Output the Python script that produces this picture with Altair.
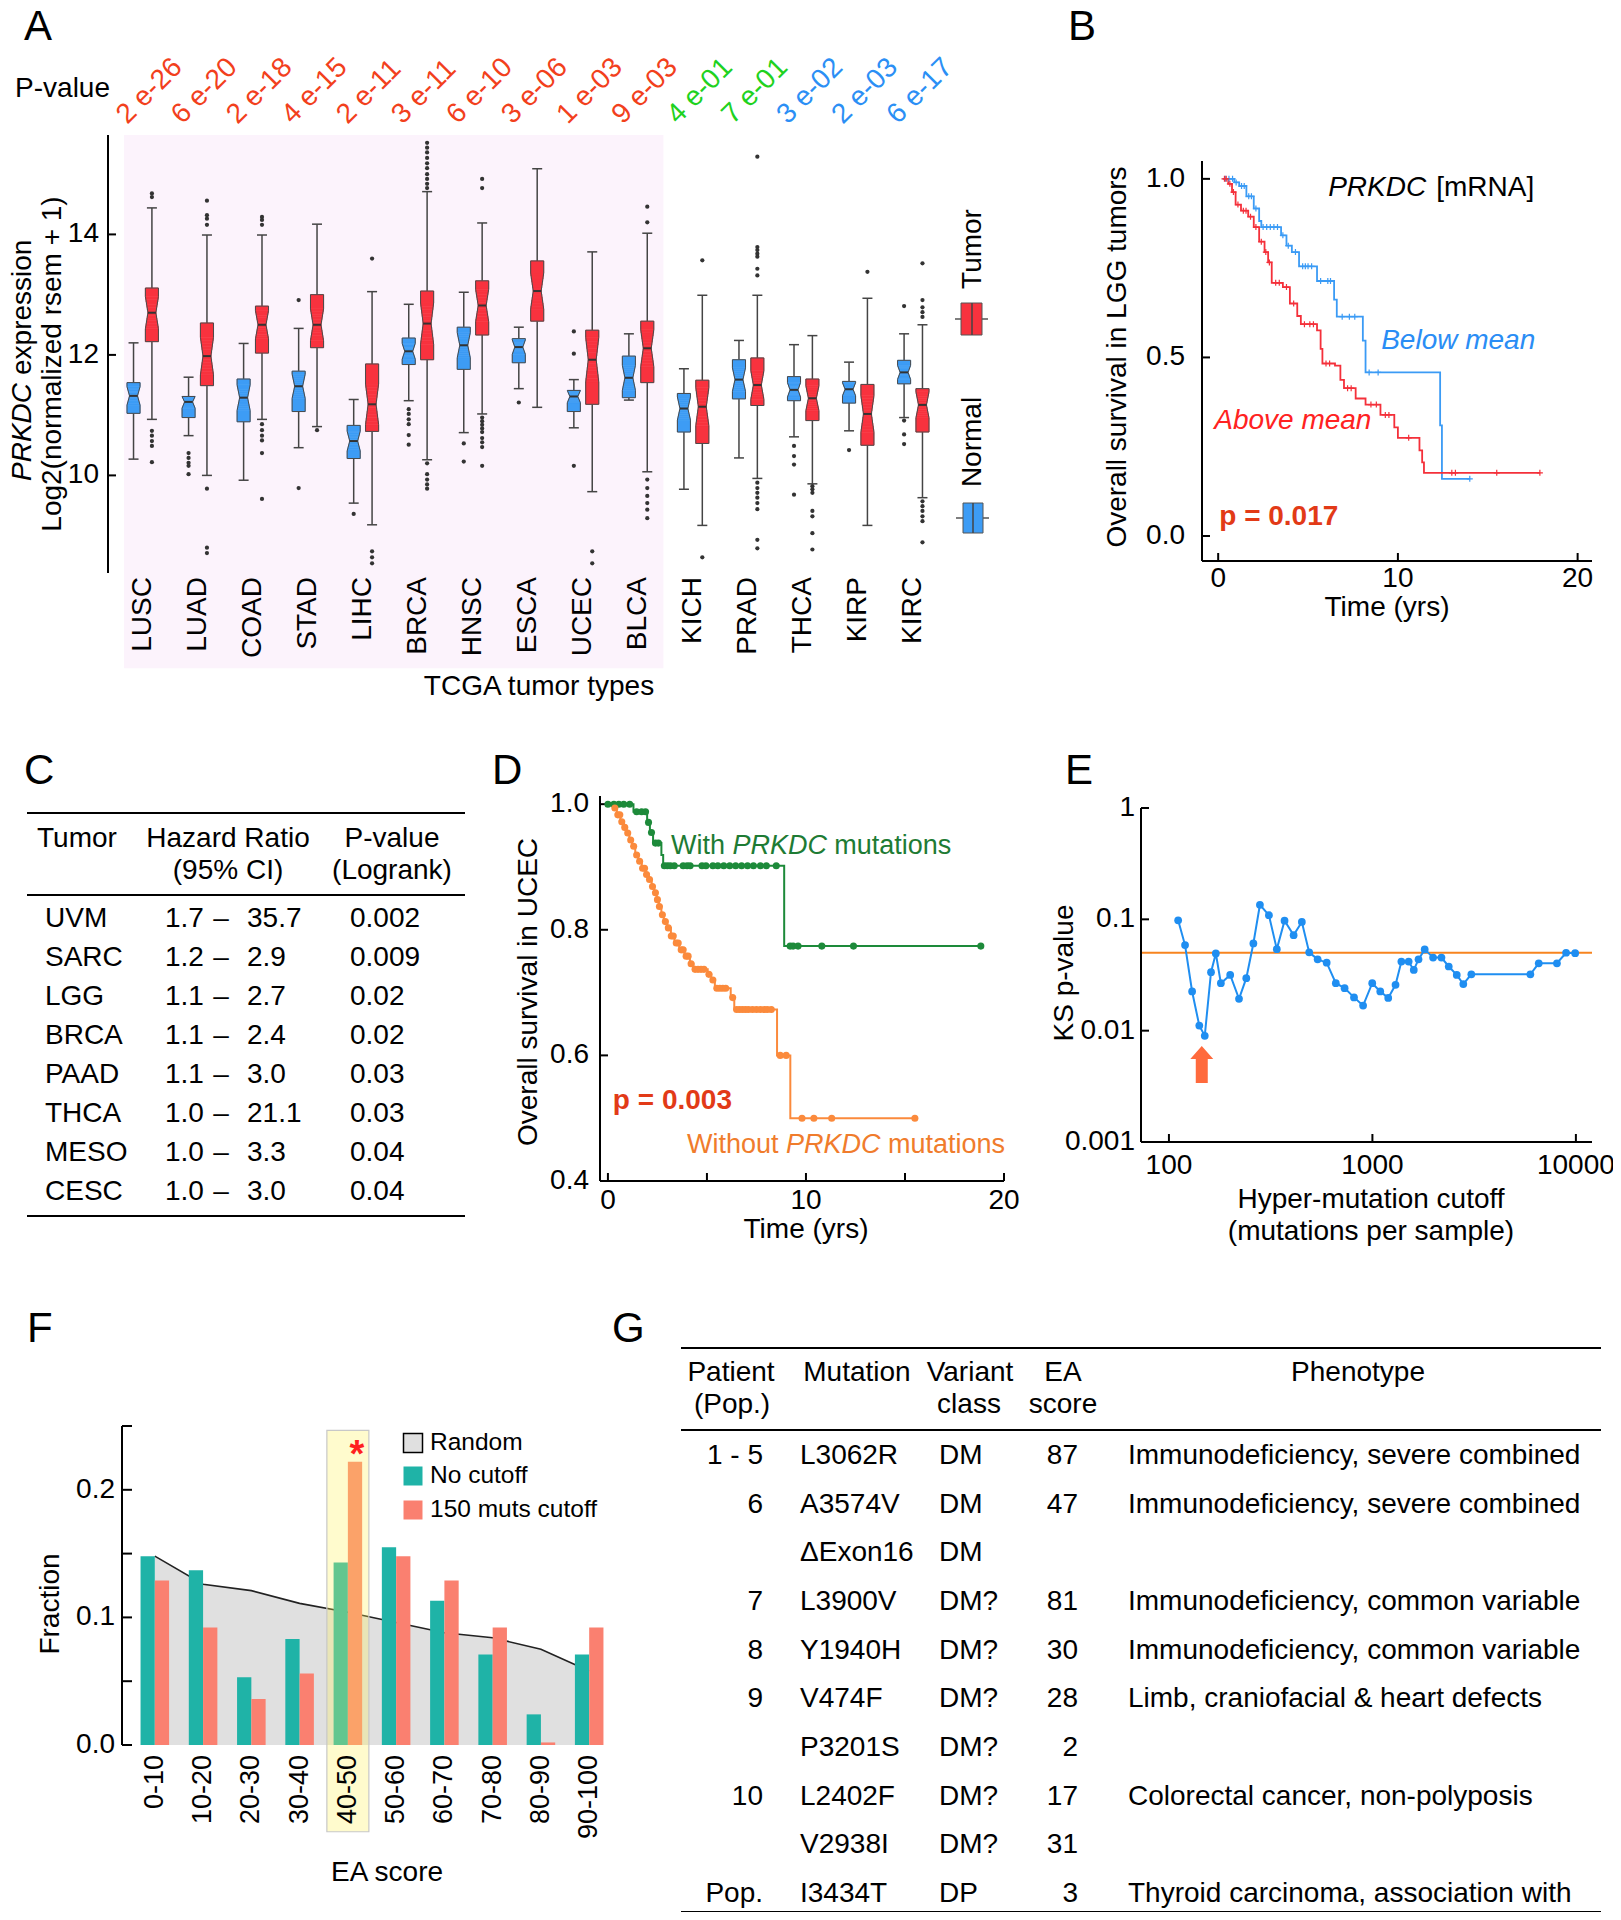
import altair as alt
import pandas as pd

FONT = "Liberation Sans"
FS = 28
OFF = 8  # page margin: reference pixel -> view pixel


def P(v):
    return v - OFF


# ======================= DATA =======================
# ---- Panel A ----
tumors = ["LUSC", "LUAD", "COAD", "STAD", "LIHC", "BRCA", "HNSC", "ESCA", "UCEC", "BLCA",
          "KICH", "PRAD", "THCA", "KIRP", "KIRC"]
pvals = ["2 e-26", "6 e-20", "2 e-18", "4 e-15", "2 e-11", "3 e-11", "6 e-10", "3 e-06", "1 e-03",
         "9 e-03", "4 e-01", "7 e-01", "3 e-02", "2 e-03", "6 e-17"]
pdir = ["up"] * 10 + ["ns"] * 2 + ["down"] * 3
A_yticks = [10, 12, 14]

normal_lw = [10.27, 10.66, 9.92, 10.46, 9.54, 11.24, 10.71, 11.44, 10.79, 11.25, 9.77, 10.29, 10.64, 10.74, 10.96]
normal_q1 = [11.03, 10.96, 10.89, 11.06, 10.28, 11.84, 11.76, 11.87, 11.06, 11.29, 10.72, 11.27, 11.24, 11.20, 11.52]
normal_med = [11.32, 11.22, 11.29, 11.48, 10.57, 12.06, 12.16, 12.13, 11.31, 11.62, 11.11, 11.59, 11.42, 11.43, 11.71]
normal_q3 = [11.54, 11.31, 11.60, 11.73, 10.83, 12.28, 12.46, 12.27, 11.41, 11.98, 11.36, 11.92, 11.64, 11.56, 11.91]
normal_uw = [12.20, 11.63, 12.19, 12.44, 11.26, 12.84, 13.04, 12.46, 11.59, 12.35, 11.77, 12.24, 12.17, 11.88, 12.35]
normal_out = [[], [10.37, 10.29, 10.21, 10.16, 10.02], [], [12.91, 9.79], [9.36],
              [11.10, 11.02, 10.93, 10.85, 10.67, 10.51], [10.53, 10.23], [11.21], [12.39, 12.02, 10.16], [],
              [], [], [10.49, 10.32, 10.18, 9.68], [10.42], [12.81, 10.91, 10.68, 10.52]]
tumor_lw = [10.93, 10.00, 10.93, 10.81, 9.18, 10.26, 11.02, 11.13, 9.73, 10.06, 9.17, 9.95, 9.86, 9.17, 9.63]
tumor_q1 = [12.22, 11.49, 12.03, 12.12, 10.73, 11.92, 12.33, 12.56, 11.18, 11.54, 10.53, 11.16, 10.91, 10.50, 10.72]
tumor_med = [12.70, 11.98, 12.50, 12.50, 11.18, 12.52, 12.82, 13.06, 11.92, 12.11, 11.14, 11.50, 11.28, 11.02, 11.17]
tumor_q3 = [13.11, 12.53, 12.81, 13.00, 11.85, 13.06, 13.23, 13.56, 12.41, 12.56, 11.58, 11.95, 11.60, 11.51, 11.44]
tumor_uw = [14.44, 13.99, 13.99, 14.17, 13.05, 14.71, 14.19, 15.09, 13.71, 14.02, 12.99, 12.99, 12.32, 12.94, 12.50]
tumor_out = [[14.62, 14.68, 10.74, 10.66, 10.57, 10.49, 10.22],
             [14.56, 14.32, 14.26, 14.16, 9.78, 8.80, 8.71],
             [14.29, 14.24, 14.16, 10.85, 10.75, 10.66, 10.58, 10.37, 9.61],
             [10.75],
             [13.60, 8.74, 8.64, 8.54],
             [15.52, 15.44, 15.36, 15.27, 15.18, 15.10, 15.00, 14.92, 14.84, 14.77, 10.20, 10.02, 9.93, 9.85, 9.78],
             [14.92, 14.77, 10.96, 10.90, 10.84, 10.78, 10.72, 10.62, 10.55, 10.47, 10.16],
             [],
             [8.74, 8.54],
             [14.46, 14.20, 9.93, 9.79, 9.66, 9.54, 9.43, 9.29],
             [13.57, 8.64],
             [15.29, 13.79, 13.74, 13.68, 13.63, 13.43, 13.32, 9.88, 9.79, 9.71, 9.63, 9.54, 9.44, 8.93, 8.79],
             [9.82, 9.77, 9.71, 9.41, 9.32, 9.04, 8.77],
             [13.38],
             [13.52, 12.91, 12.79, 12.71, 12.63, 9.57, 9.49, 9.41, 9.32, 9.24, 8.89]]

# ---- Panel B ----
below_t = [0.3, 0.9, 1.17, 1.57, 1.98, 2.28, 2.4, 3.5, 3.8, 4.1, 4.5, 5.5, 6.45, 6.6, 8.05, 8.2, 12.35, 12.45]
below_s = [1.0, 0.99, 0.98, 0.951, 0.917, 0.882, 0.865, 0.842, 0.813, 0.795, 0.755, 0.714, 0.662, 0.614,
           0.547, 0.458, 0.31, 0.16]
below_end = 14.0
below_cens = [0.4, 0.6, 0.8, 1.0, 1.3, 1.45, 1.7, 1.85, 2.1, 2.5, 2.7, 2.9, 3.1, 3.3, 3.6, 3.9, 4.3, 4.7,
              4.85, 5.0, 5.2, 5.7, 6.1, 6.25, 6.9, 7.3, 7.6, 8.4, 8.9, 14.0]
above_t = [0.3, 0.56, 0.77, 0.97, 1.27, 1.67, 1.98, 2.28, 2.58, 2.78, 2.98, 3.6, 3.99, 4.4, 4.6, 5.5, 5.7,
           5.8, 6.5, 6.8, 7.0, 7.65, 8.2, 9.03, 9.8, 10.0, 11.2, 11.35, 11.45]
above_s = [1.0, 0.986, 0.963, 0.928, 0.911, 0.894, 0.865, 0.824, 0.795, 0.766, 0.709, 0.697, 0.651, 0.616,
           0.593, 0.576, 0.524, 0.483, 0.477, 0.437, 0.414, 0.385, 0.368, 0.339, 0.304, 0.275, 0.24, 0.206,
           0.177]
above_end = 17.9
above_cens = [0.35, 0.45, 0.65, 0.85, 1.1, 1.4, 1.55, 1.8, 2.1, 2.4, 2.65, 2.85, 3.2, 3.4, 3.8, 4.2, 4.8,
              5.1, 5.3, 6.0, 6.2, 7.2, 7.4, 8.5, 8.8, 9.3, 9.5, 10.6, 13.0, 13.2, 15.5, 17.9]
B_xticks = [0, 10, 20]
B_yticks = [0.0, 0.5, 1.0]
B_ylabels = ["0.0", "0.5", "1.0"]

# ---- Panel C ----
c_tumor = ["UVM", "SARC", "LGG", "BRCA", "PAAD", "THCA", "MESO", "CESC"]
c_lo = ["1.7", "1.2", "1.1", "1.1", "1.1", "1.0", "1.0", "1.0"]
c_hi = ["35.7", "2.9", "2.7", "2.4", "3.0", "21.1", "3.3", "3.0"]
c_p = ["0.002", "0.009", "0.02", "0.02", "0.03", "0.03", "0.04", "0.04"]

# ---- Panel D ----
with_t = [0, 1.29, 1.98, 2.12, 2.28, 2.7, 2.79, 8.9]
with_s = [1.0, 0.988, 0.971, 0.955, 0.938, 0.919, 0.902, 0.774]
with_end = 18.83
with_cens = [0, 0.3, 0.55, 0.8, 1.1, 1.45, 1.7, 1.9, 2.05, 2.2, 2.4, 2.55, 2.85, 3.0, 3.15, 3.35, 3.8, 4.0,
             4.15, 4.75, 4.95, 5.3, 5.55, 5.85, 6.15, 6.45, 6.75, 7.05, 7.35, 7.7, 8.0, 8.5, 9.2, 9.35, 9.6,
             10.8, 12.4, 18.83]
without_t = [0, 0.27, 0.45, 0.63, 0.81, 0.94, 1.08, 1.22, 1.38, 1.53, 1.71, 1.89, 2.07, 2.21, 2.34, 2.46,
             2.57, 2.7, 2.82, 3.0, 3.18, 3.36, 3.6, 3.87, 4.14, 4.32, 5.04, 5.22, 5.4, 6.2, 6.38, 8.54, 9.21]
without_s = [1.0, 0.994, 0.983, 0.972, 0.963, 0.954, 0.943, 0.933, 0.919, 0.909, 0.898, 0.888, 0.880, 0.869,
             0.859, 0.848, 0.837, 0.824, 0.813, 0.803, 0.790, 0.779, 0.768, 0.758, 0.746, 0.737, 0.729,
             0.720, 0.707, 0.692, 0.673, 0.600, 0.500]
without_end = 15.5
without_cens = [0.35, 0.5, 0.6, 0.7, 0.85, 1.0, 1.15, 1.3, 1.45, 1.6, 1.75, 1.85, 1.95, 2.1, 2.25, 2.4, 2.5,
                2.6, 2.75, 2.9, 3.05, 3.2, 3.3, 3.45, 3.55, 3.7, 3.8, 3.95, 4.05, 4.2, 4.4, 4.55, 4.7, 4.85,
                5.1, 5.3, 5.5, 5.65, 5.8, 5.95, 6.3, 6.5, 6.65, 6.8, 6.95, 7.1, 7.3, 7.5, 7.7, 7.9, 8.05,
                8.25, 8.7, 9.0, 9.8, 10.4, 11.3, 15.5]
D_xticks = [0, 5, 10, 15, 20]
D_xlabels = ["0", "", "10", "", "20"]
D_yticks = [0.4, 0.6, 0.8, 1.0]
D_ylabels = ["0.4", "0.6", "0.8", "1.0"]

# ---- Panel E ----
ks_cutoff = [111, 120, 130, 141, 150, 161, 170, 180, 200, 221, 240, 260, 280, 310, 339, 370, 410, 450, 489,
             538, 596, 661, 730, 812, 900, 998, 1093, 1196, 1299, 1388, 1507, 1597, 1685, 1807, 1987, 2184,
             2372, 2597, 2797, 3063, 5974, 6568, 8070, 8949, 9918]
ks_p = [0.098, 0.0587, 0.0225, 0.0111, 0.0090, 0.0335, 0.0494, 0.0267, 0.0317, 0.0193, 0.0296, 0.0607,
        0.135, 0.109, 0.054, 0.0973, 0.0721, 0.0947, 0.0505, 0.0437, 0.0408, 0.0267, 0.0241, 0.0199, 0.0168,
        0.0267, 0.0225, 0.0197, 0.0258, 0.0417, 0.0417, 0.0351, 0.0437, 0.0537, 0.0453, 0.0453, 0.0377,
        0.0317, 0.0262, 0.0321, 0.0321, 0.0403, 0.0403, 0.0501, 0.0497]
ks_threshold = 0.05
arrow_cutoff = 145
arrow_p = 0.00496
E_xticks = [100, 1000, 10000]
E_xlabels = ["100", "1000", "10000"]
E_yticks = [0.001, 0.01, 0.1, 1]
E_ylabels = ["0.001", "0.01", "0.1", "1"]

# ---- Panel F ----
ea_bins = ["0-10", "10-20", "20-30", "30-40", "40-50", "50-60", "60-70", "70-80", "80-90", "90-100"]
random_frac = [0.148, 0.126, 0.121, 0.111, 0.104, 0.096, 0.088, 0.084, 0.075, 0.058]
nocut_frac = [0.148, 0.137, 0.053, 0.083, 0.143, 0.155, 0.113, 0.071, 0.024, 0.071]
cut150_frac = [0.129, 0.092, 0.036, 0.056, 0.222, 0.148, 0.129, 0.092, 0.002, 0.092]
f_groups = ["No cutoff", "150 muts cutoff"]
highlight_bin = "40-50"
F_yticks = [0, 0.05, 0.1, 0.15, 0.2, 0.25]
F_ylabels = ["0.0", "", "0.1", "", "0.2", ""]

# ---- Panel G ----
g_patient = ["1 - 5", "6", "", "7", "8", "9", "", "10", "", "Pop."]
g_mut = ["L3062R", "A3574V", "\u0394Exon16", "L3900V", "Y1940H", "V474F", "P3201S", "L2402F", "V2938I", "I3434T"]
g_class = ["DM", "DM", "DM", "DM?", "DM?", "DM?", "DM?", "DM?", "DM?", "DP"]
g_ea = ["87", "47", "", "81", "30", "28", "2", "17", "31", "3"]
g_pheno = ["Immunodeficiency, severe combined", "Immunodeficiency, severe combined", "",
           "Immunodeficiency, common variable", "Immunodeficiency, common variable",
           "Limb, craniofacial & heart defects", "", "Colorectal cancer, non-polyposis", "",
           "Thyroid carcinoma, association with"]

# ======================= HELPERS =======================
one = pd.DataFrame({"k": [0]})


def txt(text, x, y, size=FS, align="left", baseline="middle", angle=0, color="black",
        weight="normal", style="normal"):
    return alt.Chart(one).mark_text(text=text, align=align, baseline=baseline, angle=angle, fontSize=size,
                                    color=color, fontWeight=weight, fontStyle=style, font=FONT).encode(
        x=alt.value(P(x)), y=alt.value(P(y)))


def hrule(x1, x2, y, w=2.0, color="black"):
    return alt.Chart(one).mark_rule(color=color, strokeWidth=w).encode(
        x=alt.value(P(x1)), x2=alt.value(P(x2)), y=alt.value(P(y)))


def vrule(x, y1, y2, w=2.0, color="black"):
    return alt.Chart(one).mark_rule(color=color, strokeWidth=w).encode(
        x=alt.value(P(x)), y=alt.value(P(y1)), y2=alt.value(P(y2)))


def yticks(vals, labs, ys, xaxis, tick, label_x, fs=FS):
    d = pd.DataFrame({"v": vals, "lab": labs})
    t = alt.Chart(d).mark_rule(color="black", strokeWidth=2).encode(
        x=alt.value(P(xaxis)), x2=alt.value(P(xaxis + tick)), y=alt.Y("v:Q", scale=ys, axis=None))
    lab = alt.Chart(d).mark_text(align="right", baseline="middle", fontSize=fs, font=FONT).encode(
        x=alt.value(P(label_x)), y=alt.Y("v:Q", scale=ys, axis=None), text="lab:N")
    return [t, lab]


def xticks(vals, labs, xs, yaxis, tick, label_y, fs=FS):
    d = pd.DataFrame({"v": vals, "lab": labs})
    t = alt.Chart(d).mark_rule(color="black", strokeWidth=2).encode(
        x=alt.X("v:Q", scale=xs, axis=None), y=alt.value(P(yaxis)), y2=alt.value(P(yaxis - tick)))
    lab = alt.Chart(d).mark_text(align="center", baseline="middle", fontSize=fs, font=FONT).encode(
        x=alt.X("v:Q", scale=xs, axis=None), y=alt.value(P(label_y)), text="lab:N")
    return [t, lab]


def step_at(ts, ss, t):
    v = ss[0]
    for ti, si in zip(ts, ss):
        if ti <= t + 1e-9:
            v = si
    return v


def km_rows(name, ts, ss, tend):
    rows = [dict(grp=name, t=t, s=s) for t, s in zip(ts, ss)]
    rows.append(dict(grp=name, t=tend, s=ss[-1]))
    return rows


def cens_rows(name, ts, ss, cens):
    return [dict(grp=name, t=c, s=step_at(ts, ss, c)) for c in cens]


def ann(text, t, s, xs, ys, color="black", style="normal", weight="normal", align="left", size=FS):
    d = pd.DataFrame({"t": [t], "s": [s], "lab": [text]})
    return alt.Chart(d).mark_text(align=align, baseline="middle", fontSize=size, font=FONT, color=color,
                                  fontStyle=style, fontWeight=weight).encode(
        x=alt.X("t:Q", scale=xs, axis=None), y=alt.Y("s:Q", scale=ys, axis=None), text="lab:N")


CROSS = "M-1,0L1,0M0,-1L0,1"

# ======================= PANEL A =======================
A_BLUE, A_RED = "#3d9cf5", "#f8323e"
P_RED, P_GREEN, P_BLUE = "#f2401c", "#1fd21f", "#2b8ff5"
xsA = alt.Scale(domain=[-0.54, 14.54], range=[P(108), P(948)], nice=False, zero=False)
ysA = alt.Scale(domain=[8.38, 15.65], range=[P(573), P(135)], nice=False, zero=False)
A_STEP = 55.7                 # px per category
DOD = 0.167                   # dodge between normal / tumor boxes
BOX_PX = 13.2                 # box width (px)
NOTCH_PX = 8.0                # width at the notch (px)
HW = BOX_PX / 2 / A_STEP
NW = NOTCH_PX / 2 / A_STEP
NSL = 6                       # slices per notch half

rows, slrows, olrows = [], [], []
for i in range(len(tumors)):
    for grp, lw, q1, med, q3, uw in [
        ("Normal", normal_lw[i], normal_q1[i], normal_med[i], normal_q3[i], normal_uw[i]),
        ("Tumor", tumor_lw[i], tumor_q1[i], tumor_med[i], tumor_q3[i], tumor_uw[i])]:
        xc = i + (-DOD if grp == "Normal" else DOD)
        bid = f"{i}-{grp}"
        rows.append(dict(idx=i, grp=grp, xpos=xc, lw=lw, q1=q1, med=med, q3=q3, uw=uw))
        n = 0.3 * (q3 - q1)
        a, b = max(q1, med - n), min(q3, med + n)
        slrows.append(dict(grp=grp, xpos=xc, ya=q1, yb=a, w=BOX_PX))
        slrows.append(dict(grp=grp, xpos=xc, ya=b, yb=q3, w=BOX_PX))
        for j in range(NSL):
            f = (j + 0.5) / NSL
            slrows.append(dict(grp=grp, xpos=xc, ya=a + (med - a) * j / NSL, yb=a + (med - a) * (j + 1) / NSL,
                               w=BOX_PX + (NOTCH_PX - BOX_PX) * f))
            slrows.append(dict(grp=grp, xpos=xc, ya=med + (b - med) * j / NSL, yb=med + (b - med) * (j + 1) / NSL,
                               w=BOX_PX + (NOTCH_PX - BOX_PX) * (1 - f)))
        outline = [(xc - HW, q1), (xc - HW, a), (xc - NW, med), (xc - HW, b), (xc - HW, q3),
                   (xc + HW, q3), (xc + HW, b), (xc + NW, med), (xc + HW, a), (xc + HW, q1), (xc - HW, q1)]
        for k, (ox, oy) in enumerate(outline):
            olrows.append(dict(bid=bid, k=k, ox=ox, oy=oy))
boxdf = pd.DataFrame(rows)
slicedf = pd.DataFrame(slrows)
outlinedf = pd.DataFrame(olrows)
orows = []
for i in range(len(tumors)):
    orows += [dict(grp="Normal", xpos=i - DOD, val=v) for v in normal_out[i]]
    orows += [dict(grp="Tumor", xpos=i + DOD, val=v) for v in tumor_out[i]]
outdf = pd.DataFrame(orows)

xA = alt.X("xpos:Q", scale=xsA, axis=None)


def yA(f):
    return alt.Y(f, scale=ysA, axis=None)


boxscale = alt.Scale(domain=["Normal", "Tumor"], range=[A_BLUE, A_RED])
pink_df = pd.DataFrame({"x1": [-0.34], "x2": [9.46], "y1": [15.65], "y2": [6.8]})
pink = alt.Chart(pink_df).mark_rect(color="#fcf3fc").encode(
    x=alt.X("x1:Q", scale=xsA, axis=None), x2="x2:Q", y=yA("y1:Q"), y2="y2:Q")
bA = alt.Chart(boxdf)
w_lo = bA.mark_rule(color="#444", strokeWidth=1.5).encode(x=xA, y=yA("lw:Q"), y2="q1:Q")
w_hi = bA.mark_rule(color="#444", strokeWidth=1.5).encode(x=xA, y=yA("q3:Q"), y2="uw:Q")
cap_lo = bA.mark_tick(orient="horizontal", size=10, thickness=1.5, color="#444", opacity=1).encode(x=xA, y=yA("lw:Q"))
cap_hi = bA.mark_tick(orient="horizontal", size=10, thickness=1.5, color="#444", opacity=1).encode(x=xA, y=yA("uw:Q"))
slices = alt.Chart(slicedf).mark_bar(opacity=1, strokeWidth=0.6).encode(
    x=xA, y=yA("ya:Q"), y2="yb:Q", size=alt.Size("w:Q", scale=None, legend=None),
    color=alt.Color("grp:N", scale=boxscale, legend=None),
    stroke=alt.Stroke("grp:N", scale=boxscale, legend=None))
outline_l = alt.Chart(outlinedf).mark_line(color="#4a4a4a", strokeWidth=1).encode(
    x=alt.X("ox:Q", scale=xsA, axis=None), y=yA("oy:Q"), detail="bid:N", order="k:Q")
meds = bA.mark_tick(orient="horizontal", size=8, thickness=2, color="#333", opacity=1).encode(x=xA, y=yA("med:Q"))
outs = alt.Chart(outdf).mark_circle(size=18, color="#333", opacity=1).encode(x=xA, y=yA("val:Q"))

pdf = pd.DataFrame({"idx": list(range(len(tumors))), "lab": pvals, "dir": pdir, "name": tumors})
plabs = alt.Chart(pdf).transform_calculate(xl="datum.idx - 0.28").mark_text(
    angle=315, align="left", baseline="alphabetic", fontSize=FS, font=FONT).encode(
    x=alt.X("xl:Q", scale=xsA, axis=None), y=alt.value(P(125)), text="lab:N",
    color=alt.Color("dir:N", scale=alt.Scale(domain=["up", "ns", "down"], range=[P_RED, P_GREEN, P_BLUE]),
                    legend=None))
catlabs = alt.Chart(pdf).mark_text(angle=270, align="right", baseline="middle", fontSize=FS, font=FONT).encode(
    x=alt.X("idx:Q", scale=xsA, axis=None), y=alt.value(P(577)), text="name:N")


def leg_icon(x1, x2, y1, y2, xm, xw1, xw2, yw, fill):
    return [hrule(xw1, xw2, yw, w=1.5, color="#555"),
            alt.Chart(one).mark_rect(fill=fill, stroke="#555", strokeWidth=1).encode(
                x=alt.value(P(x1)), x2=alt.value(P(x2)), y=alt.value(P(y1)), y2=alt.value(P(y2))),
            vrule(xm, y1, y2, w=1.5, color="#444")]


A_layers = [pink, w_lo, w_hi, cap_lo, cap_hi, slices, outline_l, meds, outs, plabs, catlabs,
            vrule(108, 135, 573)] + yticks(A_yticks, [str(v) for v in A_yticks], ysA, 108, 8, 99) + [
    txt("A", 24, 40, size=42, baseline="alphabetic"),
    txt("P-value", 110, 89, align="right"),
    txt("PRKDC", 23, 383, align="right", angle=270, style="italic"),
    txt("expression", 23, 375, align="left", angle=270),
    txt("Log2(normalized rsem + 1)", 53, 364, align="center", angle=270),
    txt("TCGA tumor types", 539, 687, align="center"),
    txt("Tumor", 973, 249, align="center", angle=270),
    txt("Normal", 973, 442, align="center", angle=270)]
A_layers += leg_icon(961, 982, 303, 335, 972, 955, 988, 319, A_RED)
A_layers += leg_icon(963, 983, 503, 533, 973, 956, 989, 518, A_BLUE)
panelA = alt.layer(*A_layers).resolve_scale(color="independent")

# ======================= PANEL B =======================
B_BLUE, B_RED = "#3b9bf5", "#f4303a"
xsB = alt.Scale(domain=[-0.9, 20.8], range=[P(1202), P(1592)], nice=False, zero=False)
ysB = alt.Scale(domain=[-0.07, 1.05], range=[P(561), P(161)], nice=False, zero=False)
bdf = pd.DataFrame(km_rows("Below", below_t, below_s, below_end) + km_rows("Above", above_t, above_s, above_end))
bcd = pd.DataFrame(cens_rows("Below", below_t, below_s, below_cens) + cens_rows("Above", above_t, above_s, above_cens))
colB = alt.Color("grp:N", scale=alt.Scale(domain=["Below", "Above"], range=[B_BLUE, B_RED]), legend=None)
curvesB = alt.Chart(bdf).mark_line(interpolate="step-after", strokeWidth=1.8).encode(
    x=alt.X("t:Q", scale=xsB, axis=None), y=alt.Y("s:Q", scale=ysB, axis=None), color=colB)
censB = alt.Chart(bcd).mark_point(shape=CROSS, size=36, strokeWidth=1.2, filled=False, opacity=1).encode(
    x=alt.X("t:Q", scale=xsB, axis=None), y=alt.Y("s:Q", scale=ysB, axis=None), color=colB)
panelB = alt.layer(
    vrule(1202, 161, 561), hrule(1202, 1592, 561),
    *yticks(B_yticks, B_ylabels, ysB, 1202, 8, 1185),
    *xticks(B_xticks, [str(v) for v in B_xticks], xsB, 561, 8, 579),
    curvesB, censB,
    ann("PRKDC", 6.12, 0.975, xsB, ysB, style="italic"),
    ann("[mRNA]", 12.13, 0.975, xsB, ysB),
    ann("Below mean", 9.07, 0.547, xsB, ysB, color="#2a8df5", style="italic"),
    ann("Above mean", -0.22, 0.321, xsB, ysB, color="#ff2222", style="italic"),
    ann("p = 0.017", 0.06, 0.052, xsB, ysB, color="#e23a17", weight="bold"),
    txt("B", 1068, 40, size=42, baseline="alphabetic"),
    txt("Overall survival in LGG tumors", 1118, 357, align="center", angle=270),
    txt("Time (yrs)", 1387, 608, align="center"),
)

# ======================= PANEL C =======================
cdf = pd.DataFrame({"r": list(range(len(c_tumor))), "tumor": c_tumor, "lo": c_lo, "hi": c_hi, "p": c_p})
ysC = alt.Scale(domain=[0, len(c_tumor) - 1], range=[P(919), P(1192)], nice=False, zero=False)


def ccol(field, x, align="left", const=None):
    kw = {"text": const} if const else {}
    mk = alt.Chart(cdf).mark_text(align=align, baseline="middle", fontSize=FS, font=FONT, **kw)
    enc = dict(x=alt.value(P(x)), y=alt.Y("r:Q", scale=ysC, axis=None))
    if not const:
        enc["text"] = f"{field}:N"
    return mk.encode(**enc)


panelC = alt.layer(
    hrule(27, 465, 813), hrule(27, 465, 895), hrule(27, 465, 1216),
    txt("Tumor", 37, 839), txt("Hazard Ratio", 228, 839, align="center"),
    txt("(95% CI)", 228, 871, align="center"),
    txt("P-value", 392, 839, align="center"), txt("(Logrank)", 392, 871, align="center"),
    ccol("tumor", 45), ccol("lo", 165), ccol(None, 221, align="center", const="\u2013"), ccol("hi", 247),
    ccol("p", 350),
    txt("C", 24, 784, size=42, baseline="alphabetic"),
)

# ======================= PANEL D =======================
D_GREEN, D_ORANGE = "#1d8a3a", "#fb8a3c"
xsD = alt.Scale(domain=[-0.4, 20], range=[P(600), P(1004)], nice=False, zero=False)
ysD = alt.Scale(domain=[0.4, 1.013], range=[P(1181), P(796)], nice=False, zero=False)
ddf = pd.DataFrame(km_rows("With", with_t, with_s, with_end) + km_rows("Without", without_t, without_s, without_end))
dcd = pd.DataFrame(cens_rows("With", with_t, with_s, with_cens) + cens_rows("Without", without_t, without_s, without_cens))
colD = alt.Color("grp:N", scale=alt.Scale(domain=["With", "Without"], range=[D_GREEN, D_ORANGE]), legend=None)
curvesD = alt.Chart(ddf).mark_line(interpolate="step-after", strokeWidth=2).encode(
    x=alt.X("t:Q", scale=xsD, axis=None), y=alt.Y("s:Q", scale=ysD, axis=None), color=colD)
censD = alt.Chart(dcd).mark_circle(size=50, opacity=1).encode(
    x=alt.X("t:Q", scale=xsD, axis=None), y=alt.Y("s:Q", scale=ysD, axis=None), color=colD)
DS = 27
panelD = alt.layer(
    vrule(600, 796, 1181), hrule(600, 1004, 1181),
    *yticks(D_yticks, D_ylabels, ysD, 600, 8, 589),
    *xticks(D_xticks, D_xlabels, xsD, 1181, 8, 1201),
    curvesD, censD,
    ann("With", 3.18, 0.934, xsD, ysD, color="#1e7b34", size=DS),
    ann("PRKDC", 6.29, 0.934, xsD, ysD, color="#1e7b34", style="italic", size=DS),
    ann("mutations", 11.43, 0.934, xsD, ysD, color="#1e7b34", size=DS),
    ann("Without", 3.99, 0.458, xsD, ysD, color="#f07c2c", size=DS),
    ann("PRKDC", 8.99, 0.458, xsD, ysD, color="#f07c2c", style="italic", size=DS),
    ann("mutations", 14.14, 0.458, xsD, ysD, color="#f07c2c", size=DS),
    ann("p = 0.003", 0.25, 0.527, xsD, ysD, color="#e23a17", weight="bold"),
    txt("D", 492, 784, size=42, baseline="alphabetic"),
    txt("Overall survival in UCEC", 529, 992, align="center", angle=270),
    txt("Time (yrs)", 806, 1230, align="center"),
)

# ======================= PANEL E =======================
E_BLUE, E_ORANGE = "#1f8ef1", "#f7841f"
xsE = alt.Scale(type="log", domain=[72.9, 12000], range=[P(1141), P(1592)], nice=False)
ysE = alt.Scale(type="log", domain=[0.001, 1], range=[P(1142), P(808)], nice=False)
edf = pd.DataFrame({"cut": ks_cutoff, "p": ks_p})
ruleE = alt.Chart(pd.DataFrame({"p": [ks_threshold], "a": [72.9], "b": [12000]})).mark_rule(
    color=E_ORANGE, strokeWidth=2).encode(
    x=alt.X("a:Q", scale=xsE, axis=None), x2="b:Q", y=alt.Y("p:Q", scale=ysE, axis=None))
lineE = alt.Chart(edf).mark_line(color=E_BLUE, strokeWidth=2,
                                 point=alt.OverlayMarkDef(size=60, filled=True, color=E_BLUE, opacity=1)).encode(
    x=alt.X("cut:Q", scale=xsE, axis=None), y=alt.Y("p:Q", scale=ysE, axis=None))
ARROW = "M0,-1L0.62,-0.3L0.324,-0.3L0.324,1L-0.324,1L-0.324,-0.3L-0.62,-0.3Z"
arrowE = alt.Chart(pd.DataFrame({"cut": [arrow_cutoff], "p": [arrow_p]})).mark_point(
    shape=ARROW, size=1369, filled=True, color="#ff6a3d", opacity=1, strokeWidth=0).encode(
    x=alt.X("cut:Q", scale=xsE, axis=None), y=alt.Y("p:Q", scale=ysE, axis=None))
panelE = alt.layer(
    ruleE, vrule(1141, 808, 1142), hrule(1141, 1592, 1142),
    *yticks(E_yticks, E_ylabels, ysE, 1141, 8, 1135),
    *xticks(E_xticks, E_xlabels, xsE, 1142, 8, 1166),
    lineE, arrowE,
    txt("E", 1065, 784, size=42, baseline="alphabetic"),
    txt("KS p-value", 1065, 973, align="center", angle=270),
    txt("Hyper-mutation cutoff", 1371, 1200, align="center"),
    txt("(mutations per sample)", 1371, 1232, align="center"),
)

# ======================= PANEL F =======================
TEAL, SALMON, GRAY = "#1fb3a7", "#fa8070", "#e0e0e0"
xsF = alt.Scale(domain=ea_bins, range=[P(122), P(622)], paddingOuter=0.18, paddingInner=0)
ysF = alt.Scale(domain=[0, 0.25], range=[P(1745), P(1426)], nice=False, zero=False)
fdf = pd.DataFrame({"bin": ea_bins * 2, "grp": [f_groups[0]] * len(ea_bins) + [f_groups[1]] * len(ea_bins),
                    "val": nocut_frac + cut150_frac})
rdf = pd.DataFrame({"bin": ea_bins, "val": random_frac})
xF = alt.X("bin:N", scale=xsF, axis=None)
yF = alt.Y("val:Q", scale=ysF, axis=None)
areaF = alt.Chart(rdf).mark_area(color=GRAY, opacity=1).encode(x=xF, y=yF)
lineF = alt.Chart(rdf).mark_line(color="#222", strokeWidth=1.6).encode(x=xF, y=yF)
barsF = alt.Chart(fdf).mark_bar(opacity=1).encode(
    x=xF, xOffset=alt.XOffset("grp:N", scale=alt.Scale(domain=f_groups, paddingOuter=0.69, paddingInner=0)),
    y=yF, color=alt.Color("grp:N", scale=alt.Scale(domain=f_groups, range=[TEAL, SALMON]), legend=None))
hlF = alt.Chart(pd.DataFrame({"bin": [highlight_bin], "y1": [0.2465], "y2": [-0.068]})).mark_bar(
    size=42, fill="#fff35a", fillOpacity=0.3, stroke="#c8c8c8", strokeWidth=1.2).encode(
    x=xF, y=alt.Y("y1:Q", scale=ysF, axis=None), y2="y2:Q")
starF = alt.Chart(pd.DataFrame({"bin": [highlight_bin], "y": [0.218]})).mark_text(
    text="*", color="#ff2020", fontSize=38, fontWeight="bold", dx=9, baseline="alphabetic", font=FONT).encode(
    x=xF, y=alt.Y("y:Q", scale=ysF, axis=None))
binlabs = alt.Chart(pd.DataFrame({"bin": ea_bins})).mark_text(
    angle=270, align="right", baseline="middle", fontSize=27, font=FONT).encode(
    x=xF, y=alt.value(P(1755)), text="bin:N")
panelF = alt.layer(
    areaF, lineF, barsF, hlF, starF, binlabs,
    vrule(122, 1426, 1745),
    *yticks(F_yticks, F_ylabels, ysF, 122, 10, 115),
    alt.Chart(one).mark_square(size=361, fill=GRAY, stroke="black", strokeWidth=1.5, opacity=1).encode(
        x=alt.value(P(413)), y=alt.value(P(1443))),
    alt.Chart(one).mark_square(size=361, fill=TEAL, opacity=1).encode(x=alt.value(P(413)), y=alt.value(P(1476))),
    alt.Chart(one).mark_square(size=361, fill=SALMON, opacity=1).encode(x=alt.value(P(413)), y=alt.value(P(1510))),
    txt("Random", 430, 1443, size=24.5), txt("No cutoff", 430, 1476, size=24.5),
    txt("150 muts cutoff", 430, 1510, size=24.5),
    txt("F", 27, 1342, size=42, baseline="alphabetic"),
    txt("Fraction", 51, 1604, align="center", angle=270),
    txt("EA score", 387, 1873, align="center"),
).resolve_scale(color="independent")

# ======================= PANEL G =======================
gdf = pd.DataFrame({"r": list(range(len(g_mut))), "pat": g_patient, "mut": g_mut, "vc": g_class,
                    "ea": g_ea, "ph": g_pheno})
ysG = alt.Scale(domain=[0, len(g_mut) - 1], range=[P(1456), P(1894)], nice=False, zero=False)


def gcol(field, x, align="left"):
    return alt.Chart(gdf).mark_text(align=align, baseline="middle", fontSize=FS, font=FONT).encode(
        x=alt.value(P(x)), y=alt.Y("r:Q", scale=ysG, axis=None), text=f"{field}:N")


panelG = alt.layer(
    hrule(681, 1601, 1348), hrule(681, 1601, 1430), hrule(681, 1601, 1912),
    txt("Patient", 731, 1373, align="center"), txt("(Pop.)", 732, 1405, align="center"),
    txt("Mutation", 857, 1373, align="center"),
    txt("Variant", 970, 1373, align="center"), txt("class", 969, 1405, align="center"),
    txt("EA", 1063, 1373, align="center"), txt("score", 1063, 1405, align="center"),
    txt("Phenotype", 1358, 1373, align="center"),
    gcol("pat", 763, "right"), gcol("mut", 800), gcol("vc", 939), gcol("ea", 1078, "right"), gcol("ph", 1128),
    txt("G", 612, 1342, size=42, baseline="alphabetic"),
)

# ======================= COMPOSE =======================
chart = alt.layer(panelA, panelB, panelC, panelD, panelE, panelF, panelG).resolve_scale(
    x="independent", y="independent", color="independent"
).properties(
    width=1605, height=1904, padding=0, autosize=alt.AutoSizeParams(type="none")
).configure_view(stroke=None).configure_text(font=FONT)

chart.save("out.html", embed_options={"renderer": "svg", "actions": False})
